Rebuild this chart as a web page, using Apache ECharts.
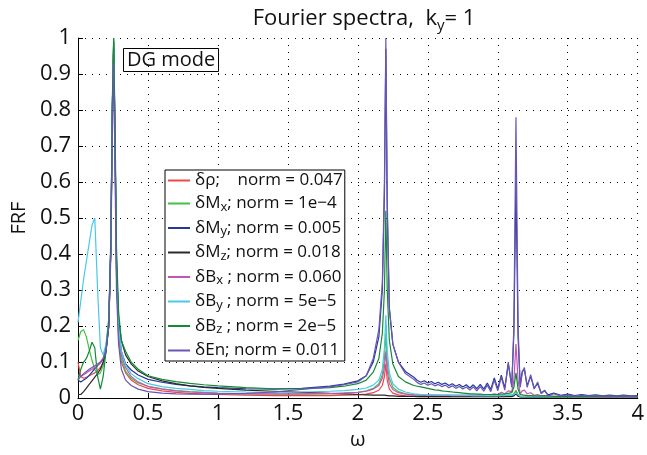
<!DOCTYPE html>
<html><head><meta charset="utf-8">
<script src="https://cdn.jsdelivr.net/npm/echarts@6/dist/echarts.min.js"></script>
<style>html,body{margin:0;padding:0;background:#fff}#c{width:647px;height:455px}</style>
</head><body><div id="c"></div>
<script>
// frequency grid (omega)
const omega = [
  0,0.02,0.04,0.06,0.08,0.10,0.12,0.14,0.16,0.18,0.20,0.22,
  0.235,0.245,0.255,0.265,0.275,0.29,0.31,0.34,0.38,0.43,0.5,
  0.6,0.7,0.8,0.9,1.0,1.2,1.4,1.6,1.8,1.9,2.0,
  2.06,2.11,2.15,2.175,2.19,2.2,2.21,2.225,2.25,2.29,2.34,2.4,
  2.425,2.45,2.475,2.5,2.525,2.55,2.575,2.6,2.625,2.65,2.675,2.7,2.725,2.75,2.775,2.8,2.825,2.85,2.875,2.9,2.925,2.95,2.975,3.0,3.025,3.05,3.075,
  3.1,3.115,3.13,3.145,3.16,3.175,3.19,3.21,3.235,3.26,3.285,3.31,3.335,3.36,
  3.4,3.45,3.5,3.55,3.6,3.65,3.7,3.75,3.8,3.85,3.9,3.95,4.0
];
const dRho = [
  0.10,0.06,0.055,0.058,0.062,0.066,0.07,0.076,0.085,0.098,0.13,0.2,
  0.42,0.78,0.98,0.68,0.34,0.17,0.1,0.07,0.05,0.037,0.027,
  0.02,0.016,0.013,0.011,0.01,0.008,0.007,0.007,0.007,0.008,0.009,
  0.011,0.015,0.022,0.035,0.06,0.095,0.05,0.025,0.014,0.009,0.006,0.005,
  0.005,0.004,0.005,0.004,0.005,0.004,0.004,0.004,0.004,0.004,0.004,0.004,0.004,0.004,0.004,0.004,0.004,0.004,0.004,0.004,0.004,0.004,0.005,0.004,0.005,0.004,0.006,
  0.006,0.01,0.02,0.008,0.004,0.004,0.004,0.003,0.003,0.003,0.003,0.003,0.003,0.003,
  0.003,0.003,0.003,0.003,0.003,0.003,0.003,0.003,0.003,0.003,0.003,0.003,0.003
];
const dMx = [
  0.16,0.185,0.19,0.17,0.135,0.105,0.08,0.065,0.07,0.09,0.13,0.2,
  0.42,0.8,1.0,0.7,0.36,0.18,0.11,0.075,0.055,0.042,0.033,
  0.026,0.021,0.018,0.016,0.014,0.012,0.011,0.011,0.012,0.014,0.016,
  0.02,0.027,0.04,0.065,0.11,0.18,0.1,0.055,0.03,0.018,0.012,0.009,
  0.008,0.008,0.007,0.007,0.007,0.007,0.006,0.006,0.006,0.006,0.006,0.006,0.005,0.005,0.005,0.005,0.005,0.005,0.005,0.005,0.005,0.005,0.006,0.005,0.006,0.006,0.008,
  0.008,0.012,0.022,0.01,0.005,0.005,0.005,0.004,0.004,0.004,0.004,0.004,0.004,0.004,
  0.004,0.004,0.004,0.004,0.004,0.004,0.004,0.004,0.004,0.004,0.004,0.004,0.004
];
const dMy = [
  0.05,0.045,0.05,0.055,0.063,0.072,0.082,0.09,0.098,0.108,0.14,0.21,
  0.43,0.8,0.99,0.72,0.38,0.2,0.13,0.095,0.078,0.064,0.052,
  0.044,0.038,0.034,0.031,0.029,0.026,0.025,0.027,0.033,0.039,0.048,
  0.062,0.1,0.17,0.3,0.57,0.97,0.52,0.25,0.15,0.1,0.074,0.058,
  0.049,0.044,0.048,0.042,0.046,0.040,0.044,0.038,0.042,0.035,0.040,0.033,0.038,0.031,0.037,0.028,0.037,0.026,0.038,0.025,0.042,0.024,0.056,0.026,0.064,0.028,0.095,
  0.034,0.18,0.6,0.17,0.035,0.075,0.08,0.035,0.06,0.028,0.04,0.015,0.02,0.009,
  0.014,0.008,0.011,0.007,0.01,0.007,0.009,0.006,0.008,0.006,0.008,0.006,0.007
];
const dMz = [
  0.01,0.01,0.018,0.028,0.038,0.048,0.058,0.068,0.08,0.1,0.13,0.2,
  0.42,0.78,0.97,0.7,0.38,0.22,0.16,0.12,0.095,0.075,0.06,
  0.048,0.04,0.034,0.03,0.027,0.022,0.019,0.016,0.013,0.012,0.01,
  0.009,0.008,0.008,0.008,0.008,0.008,0.007,0.006,0.006,0.005,0.005,0.005,
  0.004,0.004,0.004,0.004,0.004,0.004,0.004,0.004,0.004,0.004,0.004,0.004,0.004,0.004,0.004,0.004,0.004,0.004,0.004,0.004,0.004,0.004,0.004,0.004,0.004,0.004,0.004,
  0.004,0.006,0.012,0.005,0.003,0.003,0.003,0.003,0.003,0.003,0.003,0.003,0.003,0.003,
  0.003,0.003,0.003,0.003,0.003,0.003,0.003,0.003,0.003,0.003,0.003,0.003,0.003
];
const dBx = [
  0.065,0.06,0.065,0.07,0.075,0.08,0.085,0.09,0.1,0.11,0.14,0.21,
  0.43,0.8,0.99,0.7,0.36,0.19,0.12,0.085,0.06,0.045,0.032,
  0.025,0.02,0.017,0.015,0.013,0.012,0.012,0.012,0.013,0.014,0.016,
  0.019,0.025,0.035,0.055,0.085,0.13,0.075,0.04,0.024,0.015,0.011,0.009,
  0.009,0.008,0.009,0.008,0.009,0.008,0.008,0.008,0.008,0.008,0.008,0.008,0.008,0.008,0.008,0.008,0.008,0.008,0.009,0.008,0.01,0.009,0.012,0.01,0.016,0.012,0.02,
  0.018,0.05,0.15,0.05,0.012,0.02,0.022,0.012,0.015,0.008,0.01,0.006,0.007,0.005,
  0.005,0.005,0.005,0.005,0.005,0.005,0.005,0.005,0.005,0.005,0.005,0.005,0.005
];
const dBy = [
  0.21,0.27,0.33,0.38,0.43,0.48,0.5,0.3,0.14,0.12,0.15,0.22,
  0.43,0.8,0.99,0.7,0.37,0.2,0.13,0.092,0.068,0.054,0.04,
  0.032,0.027,0.024,0.021,0.019,0.017,0.016,0.017,0.019,0.021,0.024,
  0.028,0.036,0.05,0.08,0.14,0.23,0.13,0.07,0.04,0.025,0.017,0.012,
  0.011,0.01,0.01,0.009,0.009,0.009,0.008,0.008,0.008,0.008,0.007,0.007,0.007,0.007,0.007,0.007,0.006,0.006,0.006,0.006,0.006,0.006,0.006,0.006,0.007,0.007,0.008,
  0.008,0.01,0.014,0.009,0.005,0.005,0.005,0.004,0.004,0.004,0.004,0.004,0.004,0.004,
  0.004,0.004,0.004,0.004,0.004,0.004,0.004,0.004,0.004,0.004,0.004,0.004,0.004
];
const dBz = [
  0.05,0.08,0.1,0.11,0.13,0.155,0.14,0.06,0.025,0.06,0.13,0.22,
  0.45,0.82,1.0,0.75,0.42,0.24,0.16,0.13,0.1,0.08,0.062,
  0.052,0.046,0.041,0.037,0.034,0.029,0.026,0.026,0.029,0.033,0.04,
  0.05,0.072,0.11,0.18,0.3,0.52,0.3,0.16,0.095,0.06,0.045,0.035,
  0.033,0.031,0.029,0.027,0.025,0.023,0.022,0.02,0.019,0.018,0.017,0.016,0.015,0.014,0.013,0.012,0.012,0.011,0.011,0.01,0.01,0.01,0.01,0.01,0.011,0.011,0.013,
  0.015,0.03,0.07,0.025,0.01,0.009,0.008,0.007,0.007,0.006,0.006,0.006,0.006,0.006,
  0.005,0.005,0.005,0.005,0.005,0.005,0.005,0.005,0.005,0.005,0.005,0.005,0.005
];
const dEn = [
  0.05,0.06,0.068,0.074,0.08,0.085,0.09,0.095,0.1,0.11,0.13,0.2,
  0.4,0.72,0.93,0.62,0.3,0.15,0.08,0.05,0.035,0.025,0.018,
  0.014,0.012,0.011,0.011,0.011,0.013,0.017,0.024,0.031,0.037,0.045,
  0.062,0.11,0.19,0.32,0.6,1.0,0.55,0.25,0.15,0.1,0.068,0.052,
  0.043,0.038,0.042,0.036,0.040,0.034,0.038,0.032,0.036,0.029,0.034,0.027,0.032,0.025,0.031,0.022,0.031,0.020,0.032,0.019,0.036,0.018,0.05,0.02,0.058,0.022,0.1,
  0.03,0.2,0.78,0.2,0.03,0.07,0.085,0.03,0.065,0.025,0.045,0.012,0.022,0.006,
  0.012,0.006,0.009,0.005,0.008,0.005,0.007,0.004,0.006,0.004,0.006,0.004,0.005
];

const seriesKeys = ['rho','Mx','My','Mz','Bx','By','Bz','En'];
const seriesValues = [dRho,dMx,dMy,dMz,dBx,dBy,dBz,dEn];
const seriesColors = ['#f04848','#44c044','#22399c','#2a2a2a','#c455b4','#48c8e8','#138a34','#6a55b4'];
const legendText = {
  rho:'{t|δρ;    norm = 0.047}',
  Mx:'{t|δM}{s|x}{t|; norm = 1e−4}',
  My:'{t|δM}{s|y}{t|; norm = 0.005}',
  Mz:'{t|δM}{s|z}{t|; norm = 0.018}',
  Bx:'{t|δB}{s|x}{t| ; norm = 0.060}',
  By:'{t|δB}{s|y}{t| ; norm = 5e−5}',
  Bz:'{t|δB}{s|z}{t| ; norm = 2e−5}',
  En:'{t|δEn; norm = 0.011}'
};
const xTicks = {min:0, max:4, interval:0.5};
const yTicks = {min:0, max:1, interval:0.1};

const FONT = '"Open Sans", "DejaVu Sans", sans-serif';
const chart = echarts.init(document.getElementById('c'), null, {renderer:'canvas'});
chart.setOption({
  animation:false,
  backgroundColor:'#fff',
  textStyle:{fontFamily:FONT},
  title:[
    {text:'Fourier spectra,  k{s|y}= 1', left:359, top:0, textAlign:'center',
     textStyle:{fontFamily:FONT,fontSize:22,fontWeight:'normal',color:'#111',lineHeight:28,
       rich:{s:{fontFamily:FONT,fontSize:15,lineHeight:14,verticalAlign:'bottom',color:'#111'}}}},
    {text:'DG mode', left:123, top:48, borderColor:'#000', borderWidth:1, padding:[1,3,1,4],
     textStyle:{fontFamily:FONT,fontSize:20,fontWeight:'normal',color:'#111',lineHeight:22}}
  ],
  grid:{left:78, right:7, top:38, bottom:51},
  xAxis:{type:'value', min:xTicks.min, max:xTicks.max, interval:xTicks.interval,
    name:'ω', nameLocation:'middle', nameGap:30,
    nameTextStyle:{fontFamily:FONT,fontSize:20,color:'#111'},
    axisLine:{show:true,lineStyle:{color:'#000',width:1}},
    axisTick:{show:true,inside:true,length:5,lineStyle:{color:'#000'}},
    axisLabel:{fontFamily:FONT,fontSize:22,color:'#111',margin:5,formatter:v=>String(v)},
    splitLine:{show:true,lineStyle:{color:'#000',type:[1,6],width:1}}},
  yAxis:{type:'value', min:yTicks.min, max:yTicks.max, interval:yTicks.interval,
    name:'FRF', nameLocation:'middle', nameGap:46,
    nameTextStyle:{fontFamily:FONT,fontSize:20,color:'#111'},
    axisLine:{show:true,lineStyle:{color:'#000',width:1}},
    axisTick:{show:true,inside:true,length:5,lineStyle:{color:'#000'}},
    axisLabel:{fontFamily:FONT,fontSize:22,color:'#111',margin:7,formatter:v=>String(+v.toFixed(1))},
    splitLine:{show:true,lineStyle:{color:'#000',type:[1,6],width:1}}},
  legend:{orient:'vertical', left:165, top:170, icon:'rect', itemWidth:22, itemHeight:2, itemGap:6,
    backgroundColor:'#fff', borderColor:'#000', borderWidth:1, borderRadius:0, padding:[2,2,2,3],
    data:seriesKeys,
    formatter:n=>legendText[n],
    textStyle:{fontFamily:FONT,fontSize:17,color:'#111',
      rich:{t:{fontFamily:FONT,fontSize:17,lineHeight:20,color:'#111'},
            s:{fontFamily:FONT,fontSize:13,lineHeight:8,verticalAlign:'bottom',color:'#111'}}}},
  series:seriesKeys.map((k,i)=>({
    name:k, type:'line', symbol:'none', showSymbol:false, color:seriesColors[i],
    lineStyle:{width:1.2,color:seriesColors[i]},
    data:omega.map((w,j)=>[w, seriesValues[i][j]])
  }))
});
</script></body></html>
